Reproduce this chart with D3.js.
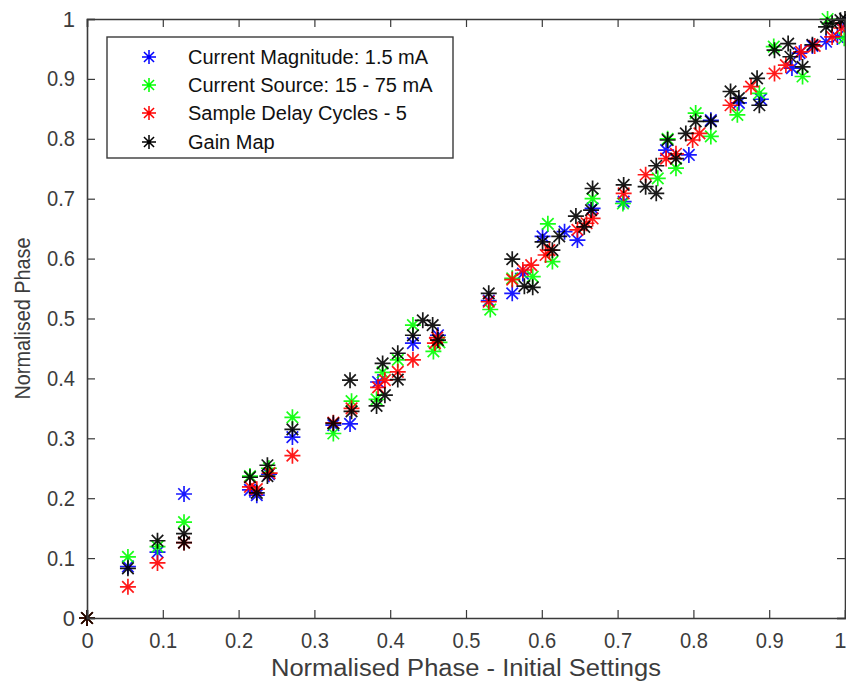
<!DOCTYPE html>
<html>
<head>
<meta charset="utf-8">
<script src="https://cdn.jsdelivr.net/npm/d3@7"></script>
<style>
html,body{margin:0;padding:0;background:#fff;}
svg{display:block;}
text{font-family:"Liberation Sans",Arial,sans-serif;}
</style>
</head>
<body>
<svg id="chart" width="846" height="692"></svg>
<script>
// ---------- data ----------
const seriesNames = ["Current Magnitude: 1.5 mA", "Current Source: 15 - 75 mA", "Sample Delay Cycles - 5", "Gain Map"];
const seriesColors = ["#0000ff", "#00ff00", "#ff0000", "#000000"];

const blueX = [0, 0.054, 0.093, 0.128, 0.215, 0.224, 0.240, 0.271, 0.325, 0.347, 0.384, 0.430, 0.463, 0.530, 0.561, 0.575, 0.601, 0.630, 0.647, 0.667, 0.708, 0.764, 0.794, 0.823, 0.860, 0.889, 0.930, 0.940, 0.957, 0.975, 0.990, 1.000];
const blueY = [0, 0.086, 0.110, 0.207, 0.214, 0.205, 0.240, 0.302, 0.322, 0.324, 0.394, 0.459, 0.472, 0.530, 0.542, 0.575, 0.637, 0.645, 0.631, 0.684, 0.695, 0.781, 0.773, 0.831, 0.860, 0.866, 0.918, 0.943, 0.955, 0.962, 0.970, 0.990];

const greenX = [0, 0.054, 0.093, 0.128, 0.215, 0.240, 0.271, 0.325, 0.349, 0.382, 0.390, 0.410, 0.430, 0.457, 0.465, 0.532, 0.561, 0.588, 0.608, 0.614, 0.667, 0.707, 0.753, 0.766, 0.777, 0.803, 0.823, 0.858, 0.887, 0.906, 0.944, 0.977, 0.999];
const greenY = [0, 0.102, 0.119, 0.160, 0.237, 0.250, 0.335, 0.308, 0.362, 0.365, 0.410, 0.431, 0.489, 0.445, 0.460, 0.515, 0.567, 0.570, 0.658, 0.595, 0.700, 0.692, 0.734, 0.800, 0.751, 0.843, 0.804, 0.840, 0.876, 0.954, 0.904, 1.000, 0.968];

const redX = [0, 0.054, 0.093, 0.128, 0.215, 0.224, 0.241, 0.271, 0.325, 0.349, 0.384, 0.393, 0.410, 0.430, 0.459, 0.462, 0.530, 0.561, 0.575, 0.586, 0.605, 0.610, 0.647, 0.659, 0.667, 0.708, 0.737, 0.764, 0.777, 0.799, 0.808, 0.849, 0.876, 0.907, 0.922, 0.942, 0.960, 0.983, 0.995];
const redY = [0, 0.052, 0.092, 0.126, 0.219, 0.215, 0.242, 0.271, 0.326, 0.350, 0.385, 0.397, 0.411, 0.431, 0.459, 0.468, 0.528, 0.565, 0.581, 0.589, 0.606, 0.614, 0.648, 0.659, 0.667, 0.709, 0.740, 0.767, 0.775, 0.798, 0.809, 0.856, 0.887, 0.909, 0.923, 0.945, 0.955, 0.970, 0.985];

const blackX = [0, 0.054, 0.093, 0.128, 0.128, 0.215, 0.224, 0.238, 0.238, 0.271, 0.325, 0.347, 0.349, 0.382, 0.390, 0.393, 0.410, 0.410, 0.430, 0.443, 0.456, 0.463, 0.530, 0.561, 0.577, 0.588, 0.601, 0.614, 0.623, 0.645, 0.656, 0.667, 0.665, 0.708, 0.737, 0.751, 0.751, 0.766, 0.777, 0.790, 0.803, 0.823, 0.849, 0.860, 0.884, 0.887, 0.907, 0.925, 0.928, 0.944, 0.957, 0.975, 0.983, 0.994, 1.000];
const blackY = [0, 0.083, 0.129, 0.141, 0.126, 0.235, 0.209, 0.255, 0.237, 0.315, 0.325, 0.397, 0.345, 0.354, 0.425, 0.372, 0.442, 0.398, 0.472, 0.497, 0.489, 0.464, 0.542, 0.599, 0.554, 0.552, 0.628, 0.614, 0.637, 0.671, 0.653, 0.717, 0.681, 0.723, 0.720, 0.709, 0.755, 0.798, 0.767, 0.809, 0.829, 0.829, 0.879, 0.868, 0.901, 0.856, 0.948, 0.959, 0.937, 0.920, 0.957, 0.987, 0.993, 0.998, 1.000];

const xTicks = [0, 0.1, 0.2, 0.3, 0.4, 0.5, 0.6, 0.7, 0.8, 0.9, 1];
const yTicks = [0, 0.1, 0.2, 0.3, 0.4, 0.5, 0.6, 0.7, 0.8, 0.9, 1];
const xTitle = "Normalised Phase - Initial Settings";
const yTitle = "Normalised Phase";

// ---------- layout ----------
const svg = d3.select("#chart");
const L = 87, R = 845, T = 19, B = 618;
const x = d3.scaleLinear().domain([0, 1]).range([L, R]);
const y = d3.scaleLinear().domain([0, 1]).range([B, T]);
const axisColor = "#3a3a3a";
const tickLen = 8;

const series = [
  {name: seriesNames[0], color: seriesColors[0], xs: blueX, ys: blueY},
  {name: seriesNames[1], color: seriesColors[1], xs: greenX, ys: greenY},
  {name: seriesNames[2], color: seriesColors[2], xs: redX, ys: redY},
  {name: seriesNames[3], color: seriesColors[3], xs: blackX, ys: blackY}
];

// asterisk marker (8 spokes)
function star(r) {
  const d = r * 0.72;
  return `M${-r},0L${r},0M0,${-r}L0,${r}M${-d},${-d}L${d},${d}M${-d},${d}L${d},${-d}`;
}

const xAxis = d3.axisBottom(x).tickValues(xTicks).tickSize(-tickLen).tickPadding(14).tickFormat(d3.format("~g"));
const yAxis = d3.axisLeft(y).tickValues(yTicks).tickSize(-tickLen).tickPadding(12).tickFormat(d3.format("~g"));
const xAxisTop = d3.axisTop(x).tickValues(xTicks).tickSize(-tickLen).tickFormat("");
const yAxisRight = d3.axisRight(y).tickValues(yTicks).tickSize(-tickLen).tickFormat("");

function styleAxis(g) {
  g.select(".domain").attr("stroke", axisColor).attr("stroke-width", 1.6);
  g.selectAll(".tick line").attr("stroke", axisColor).attr("stroke-width", 1.2);
  g.selectAll(".tick text").attr("fill", "#3c3c3c").style("font-size", "22px")
    .style("font-family", "'Liberation Sans', Arial, sans-serif")
    .attr("textLength", d => (d === 0 || d === 1) ? null : 28).attr("lengthAdjust", "spacingAndGlyphs");
}

// points
const plot = svg.append("g");
series.forEach(s => {
  const pts = s.xs.map((v, i) => [v, s.ys[i]]);
  plot.append("g").selectAll("path").data(pts).join("path")
    .attr("d", star(8))
    .attr("transform", d => `translate(${x(d[0])},${y(d[1])})`)
    .attr("fill", "none")
    .attr("stroke", s.color)
    .attr("stroke-width", 1.7)
    .attr("stroke-opacity", 0.9);
});

const gx = svg.append("g").attr("transform", `translate(0,${B})`).call(xAxis).call(styleAxis);
gx.selectAll(".tick text").filter(d => d === 1).attr("text-anchor", "end").attr("x", 1);
const gy = svg.append("g").attr("transform", `translate(${L},0)`).call(yAxis).call(styleAxis);
svg.append("g").attr("transform", `translate(0,${T})`).call(xAxisTop).call(styleAxis);
svg.append("g").attr("transform", `translate(${R},0)`).call(yAxisRight).call(styleAxis);

// axis titles
svg.append("text").attr("x", (L + R) / 2).attr("y", 676).attr("text-anchor", "middle")
  .attr("fill", "#3c3c3c").style("font-size", "23px")
  .attr("textLength", 390).attr("lengthAdjust", "spacingAndGlyphs").text(xTitle);
svg.append("text").attr("transform", `translate(30,${(T + B) / 2}) rotate(-90)`).attr("text-anchor", "middle")
  .attr("fill", "#3c3c3c").style("font-size", "22px")
  .attr("textLength", 162).attr("lengthAdjust", "spacingAndGlyphs").text(yTitle);

// legend
const lg = svg.append("g");
lg.append("rect").attr("x", 107).attr("y", 37).attr("width", 346).attr("height", 121)
  .attr("fill", "#fff").attr("stroke", axisColor).attr("stroke-width", 1.4);
const rowY = [57, 85, 113, 142];
series.forEach((s, i) => {
  lg.append("path").attr("d", star(7)).attr("transform", `translate(149,${rowY[i]})`)
    .attr("fill", "none").attr("stroke", s.color).attr("stroke-width", 1.5);
  lg.append("text").attr("x", 188).attr("y", rowY[i]).attr("dy", "0.36em")
    .attr("fill", "#111").style("font-size", "20px").text(s.name);
});
</script>
</body>
</html>
